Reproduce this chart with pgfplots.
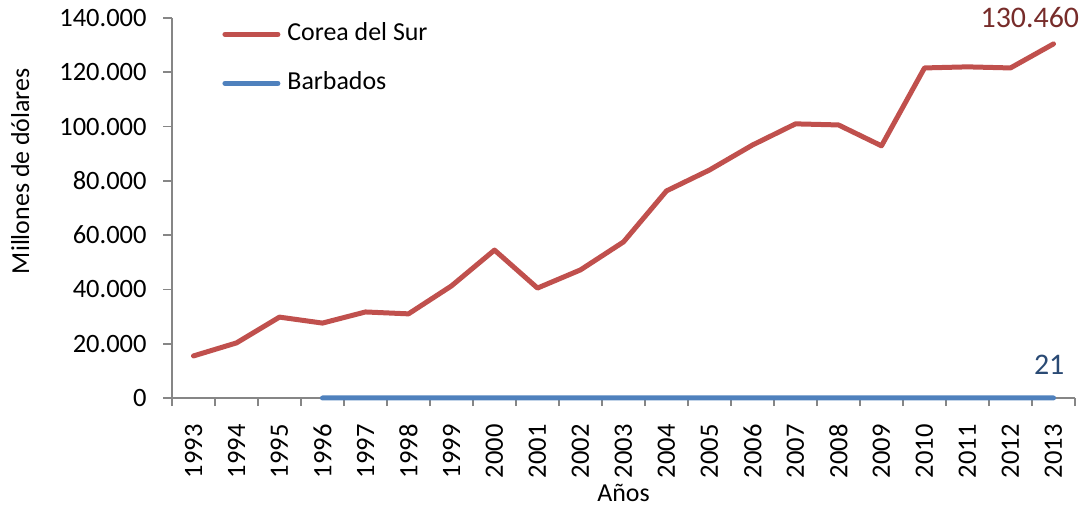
\documentclass[border=0pt]{standalone}
\usepackage{pgfplots}
\pgfplotsset{compat=1.18}
\usepackage{fontspec}
\setmainfont{Carlito}
\definecolor{corea}{HTML}{C0504D}
\definecolor{barb}{HTML}{4F81BD}
\definecolor{axisgray}{HTML}{868686}
\definecolor{lblred}{HTML}{772C2A}
\definecolor{lblblue}{HTML}{2A4A74}
\begin{document}
\begin{tikzpicture}
\path[use as bounding box] (-86bp,-56bp) rectangle (456.5bp,199bp);
\begin{axis}[
    at={(0,0)}, anchor=south west,
    scale only axis, width=451.5bp, height=190bp,
    xmin=1992.5, xmax=2013.5, ymin=0, ymax=140000,
    axis lines*=left,
    axis line style={axisgray, line width=0.8pt},
    tick style={axisgray, line width=0.8pt},
    tick align=outside,
    xtick={1993,...,2013},
    major x tick style={draw=none},
    minor xtick={1992.5,1993.5,...,2013.5},
    minor tick length=4bp,
    ytick={0,20000,...,140000},
    major tick length=4.5bp,
    scaled y ticks=false,
    /pgf/number format/assume math mode=true,
    yticklabel style={/pgf/number format/fixed, /pgf/number format/precision=0, /pgf/number format/1000 sep={.}},
    xticklabel style={/pgf/number format/1000 sep={}},
    xticklabel style={rotate=90, anchor=east, inner sep=0pt},
    xticklabel shift=8.5bp,
    yticklabel style={inner sep=0pt},
    yticklabel shift=8bp,
    tick label style={font=\fontsize{13.3}{15}\selectfont},
    label style={font=\fontsize{13}{15}\selectfont},
    xlabel={Años},
    xlabel style={at={(axis description cs:0.5,-0.25)}, anchor=center},
    ylabel={Millones de dólares},
    ylabel style={at={(axis description cs:-0.168,0.597)}, anchor=center},
    clip=false,
    legend cell align=left,
    legend style={at={(axis description cs:0.0554,0.991)}, anchor=north west,
        draw=none, fill=none, font=\fontsize{13}{15}\selectfont,
        row sep=12bp, inner sep=0pt,
        nodes={inner sep=0pt, text height=9.5bp, text depth=3bp},
        /tikz/every odd column/.style={column sep=3.5bp}},
    legend image code/.code={\draw[#1] (0bp,0bp) -- (26.5bp,0bp);},
]
\addplot[corea, line width=2.5bp, line cap=round, line join=round] coordinates {
(1993,15500) (1994,20300) (1995,29800) (1996,27600) (1997,31700) (1998,31000)
(1999,41300) (2000,54500) (2001,40500) (2002,47200) (2003,57500) (2004,76300)
(2005,84000) (2006,93200) (2007,101000) (2008,100600) (2009,92900) (2010,121600)
(2011,122000) (2012,121600) (2013,130460)};
\addlegendentry{Corea del Sur}
\addplot[barb, line width=2.5bp, line cap=round, line join=round] coordinates {
(1996,3) (1997,4) (1998,4) (1999,5) (2000,6) (2001,7) (2002,8) (2003,9)
(2004,10) (2005,11) (2006,12) (2007,13) (2008,14) (2009,15) (2010,17)
(2011,18) (2012,20) (2013,21)};
\addlegendentry{Barbados}
\node[lblred, font=\fontsize{15}{17}\selectfont] at (axis cs:2012.45,140000) {130.460};
\node[lblblue, font=\fontsize{15}{17}\selectfont] at (axis cs:2012.9,12300) {21};
\end{axis}
\end{tikzpicture}
\end{document}
